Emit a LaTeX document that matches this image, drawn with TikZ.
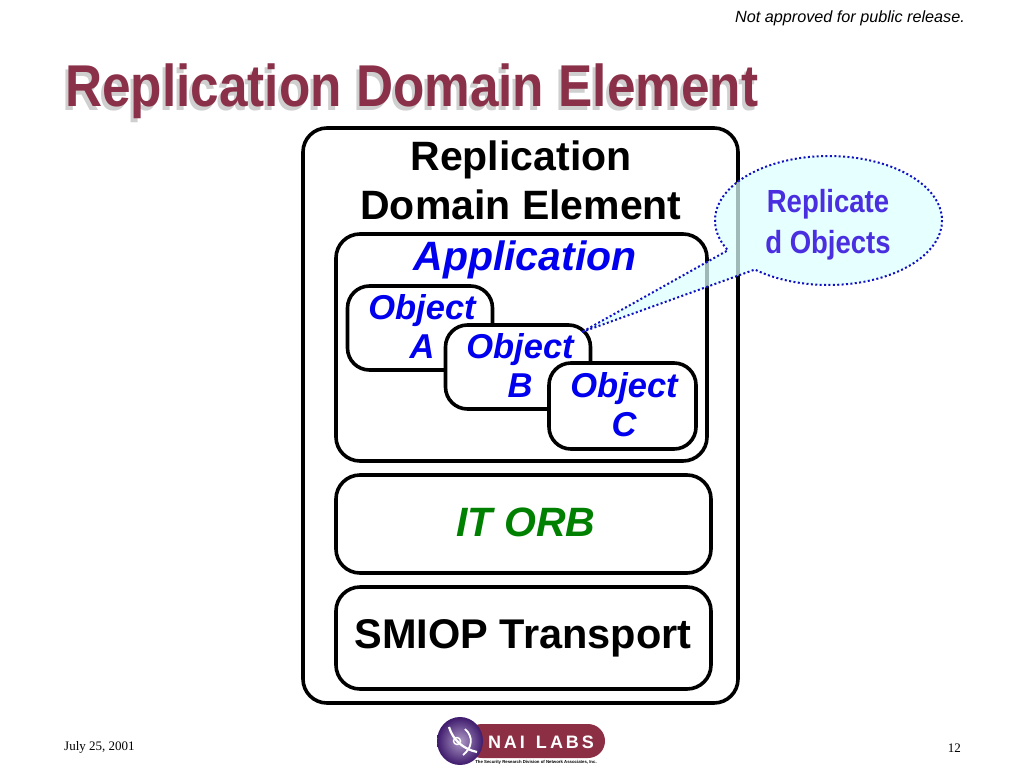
\documentclass[tikz,border=0pt]{standalone}
\usepackage{fontspec}
\setmainfont{Liberation Sans}
\newfontfamily\serifface{Liberation Serif}
\usetikzlibrary{shapes.callouts}
\definecolor{titlered}{HTML}{8A3048}
\definecolor{titleshade}{HTML}{CFCFCF}
\definecolor{objblue}{HTML}{0000EE}
\definecolor{calloutblue}{HTML}{4A2FE0}
\definecolor{dotblue}{HTML}{1010C0}
\definecolor{calloutfill}{HTML}{DDFFFF}
\definecolor{orbgreen}{HTML}{008000}
\definecolor{logored}{HTML}{8C2F45}
\definecolor{logopurple}{HTML}{4A1F80}
\tikzset{
  bigbox/.style={draw=black,line width=3.6pt,rounded corners=24pt,fill=white,inner sep=0pt},
  objbox/.style={draw=black,line width=3.6pt,rounded corners=22pt,fill=white,inner sep=0pt,minimum width=145pt,minimum height=84pt},
  objlabel/.style={font=\fontsize{34.5}{39}\selectfont\bfseries\itshape,text=objblue,align=center},
  blacklabel/.style={font=\fontsize{41}{49}\selectfont\bfseries,align=center},
  titlelabel/.style={font=\fontsize{59}{62}\selectfont\bfseries,anchor=west,inner sep=0pt},
  smalllabel/.style={font=\fontsize{13}{15}\selectfont\serifface,inner sep=0pt},
}
\begin{document}
\begin{tikzpicture}[x=1pt,y=-1pt]
  \useasboundingbox (0,0) rectangle (1024,768);
  \node[font=\fontsize{16.2}{20}\selectfont\itshape,anchor=east,inner sep=0pt] (notice) at (965,18) {Not approved for public release.};

  \node[titlelabel,text=titleshade] (titleshadow) at (62,95) {\scalebox{0.87}[1]{Replication Domain Element}};
  \node[titlelabel,text=titlered] (title) at (65,91) {\scalebox{0.87}[1]{Replication Domain Element}};

  \node[bigbox,minimum width=435pt,minimum height=575pt] (element) at (520.5,415.5) {};
  \node[blacklabel] (elementlabel) at (521,180) {Replication\\Domain Element};

  \node[bigbox,minimum width=371pt,minimum height=227pt] (application) at (521.5,347.5) {};
  \node[font=\fontsize{41}{46}\selectfont\bfseries\itshape,text=objblue] (applabel) at (525,260) {Application};

  \node[objbox] (obja) at (420,328) {};
  \node[objlabel] (objalabel) at (422,326) {Object\\A};
  \node[objbox] (objb) at (518,367) {};
  \node[objlabel] (objblabel) at (520,365) {Object\\B};
  \node[objbox,minimum width=147pt,minimum height=86pt] (objc) at (622.5,406) {};
  \node[objlabel] (objclabel) at (624,405) {Object\\C};

  \node[bigbox,minimum width=375pt,minimum height=98pt] (orb) at (523.5,524) {};
  \node[font=\fontsize{41}{46}\selectfont\bfseries\itshape,text=orbgreen] (orblabel) at (526,522) {IT ORB};

  \node[bigbox,minimum width=375pt,minimum height=102pt] (smiop) at (523.5,638) {};
  \node[blacklabel,font=\fontsize{41.5}{49}\selectfont\bfseries] (smioplabel) at (523,638) {SMIOP Transport};

  \node[ellipse callout,draw=dotblue,dash pattern=on 2pt off 2.4pt,line width=2pt,fill=calloutfill,fill opacity=0.72,
    minimum width=227pt,minimum height=129pt,inner sep=0pt,
    callout absolute pointer={(582,332)},callout pointer arc=22] (callout) at (828.5,220.5) {};
  \node[font=\fontsize{32}{41}\selectfont\bfseries,text=calloutblue,align=center] (calloutlabel) at (828,225) {\scalebox{0.86}[1]{Replicate}\\\scalebox{0.86}[1]{d Objects}};

  \node[smalllabel,anchor=west] (date) at (64,747) {July 25, 2001};
  \node[smalllabel,anchor=east] (pagenum) at (961,748) {12};

  \fill[logored,rounded corners=17pt] (465,724) rectangle (605,758);
  \shade[inner color=logopurple!45,outer color=logopurple!85!black] (460,741) ellipse (23 and 24);
  \draw[white,line width=2.2pt] (449,727) .. controls (453,740) and (463,749) .. (477,752);
  \draw[white,line width=1.8pt] (465,729) .. controls (474,737) and (472,748) .. (463,755);
  \draw[white,line width=1.4pt] (457,741) circle (3.5);
  \node[font=\fontsize{18}{20}\selectfont\bfseries,text=white,inner sep=0pt] (logoname) at (541,742) {N\,A\,I\, \,L\,A\,B\,S};
  \node[font=\fontsize{4.3}{5}\selectfont\bfseries,inner sep=0.5pt,fill=white] (logotag) at (536,762) {The Security Research Division of Network Associates, Inc.};
\end{tikzpicture}
\end{document}
